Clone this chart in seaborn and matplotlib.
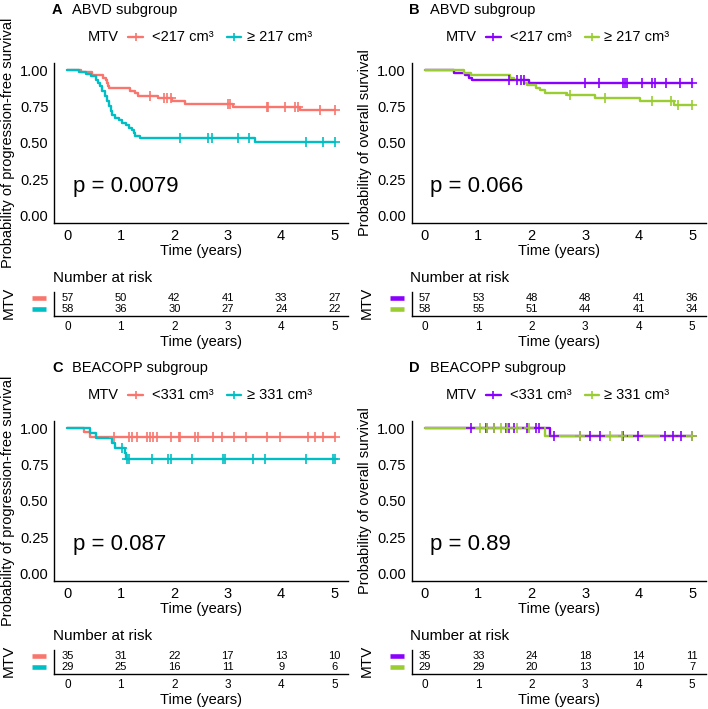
import numpy as np
import pandas as pd
import matplotlib
matplotlib.use("Agg")
import matplotlib.pyplot as plt
import matplotlib.transforms as mtransforms
from matplotlib.lines import Line2D
import seaborn as sns

# ------------------------------------------------------------------ data
TIME_TICKS = [0, 1, 2, 3, 4, 5]
Y_TICKS = [0.0, 0.25, 0.5, 0.75, 1.0]
Y_TICK_LABELS = ["0.00", "0.25", "0.50", "0.75", "1.00"]

# Panel A : ABVD subgroup, PFS
a_lo_time = [0, 0.25, 0.47, 0.67, 0.72, 0.74, 0.76, 0.78, 1.18, 1.27, 1.33, 1.70, 1.96, 2.20, 3.10, 4.35, 5.0]
a_lo_surv = [1, 0.99, 0.965, 0.947, 0.93, 0.912, 0.895, 0.877, 0.86, 0.842, 0.824, 0.808, 0.79, 0.771, 0.75, 0.727, 0.727]
a_lo_cens = [1.55, 1.80, 1.86, 1.93, 3.01, 3.04, 3.73, 3.76, 4.07, 4.25, 4.32, 4.72, 5.0]
a_hi_time = [0, 0.21, 0.34, 0.45, 0.53, 0.57, 0.61, 0.65, 0.70, 0.75, 0.78, 0.81, 0.84, 0.90, 0.96, 1.02,
             1.09, 1.15, 1.21, 1.24, 1.27, 1.35, 3.51, 5.0]
a_hi_surv = [1, 0.99, 0.975, 0.96, 0.93, 0.91, 0.89, 0.86, 0.82, 0.79, 0.755, 0.72, 0.69, 0.675, 0.66, 0.64,
             0.625, 0.605, 0.59, 0.57, 0.55, 0.534, 0.509, 0.509]
a_hi_cens = [2.11, 2.64, 2.70, 3.20, 3.39, 4.47, 4.78, 5.0]
a_risk_lo = [57, 50, 42, 41, 33, 27]
a_risk_hi = [58, 36, 30, 27, 24, 22]

# Panel B : ABVD subgroup, OS
b_lo_time = [0, 0.55, 0.76, 0.83, 0.89, 1.94, 5.0]
b_lo_surv = [1, 0.983, 0.966, 0.948, 0.93, 0.911, 0.911]
b_lo_cens = [1.57, 1.73, 1.79, 1.85, 3.0, 3.25, 3.71, 3.75, 3.78, 4.06, 4.24, 4.30, 4.52, 4.77, 5.0]
b_hi_time = [0, 0.73, 0.86, 1.60, 1.66, 1.85, 1.91, 2.07, 2.16, 2.25, 2.66, 3.19, 4.02, 4.67, 5.0]
b_hi_surv = [1, 0.983, 0.966, 0.95, 0.932, 0.915, 0.897, 0.88, 0.862, 0.845, 0.827, 0.81, 0.786, 0.762, 0.762]
b_hi_cens = [2.72, 3.37, 4.24, 4.61, 4.74, 5.0]
b_risk_lo = [57, 53, 48, 48, 41, 36]
b_risk_hi = [58, 55, 51, 44, 41, 34]

# Panel C : BEACOPP subgroup, PFS
c_lo_time = [0, 0.31, 0.43, 5.0]
c_lo_surv = [1, 0.971, 0.943, 0.943]
c_lo_cens = [0.87, 1.15, 1.21, 1.30, 1.49, 1.55, 1.61, 1.68, 1.93, 2.08, 2.11, 2.39, 2.45, 2.73, 2.89,
             3.11, 3.35, 3.73, 3.98, 4.50, 4.63, 4.78, 5.0]
c_hi_time = [0, 0.43, 0.53, 0.84, 0.90, 1.07, 1.09, 5.0]
c_hi_surv = [1, 0.966, 0.931, 0.897, 0.862, 0.828, 0.79, 0.79]
c_hi_cens = [1.02, 1.12, 1.15, 1.58, 1.89, 1.93, 2.33, 2.92, 2.94, 3.48, 3.70, 4.47, 4.97, 5.0]
c_risk_lo = [35, 31, 22, 17, 13, 10]
c_risk_hi = [29, 25, 16, 11, 9, 6]

# Panel D : BEACOPP subgroup, OS
d_lo_time = [0, 2.35, 5.0]
d_lo_surv = [1, 0.95, 0.95]
d_lo_cens = [0.86, 1.14, 1.17, 1.29, 1.51, 1.57, 1.66, 1.91, 2.07, 2.13, 2.41, 2.91, 3.09, 3.28, 3.71,
             3.99, 4.49, 4.65, 4.80, 4.99]
d_hi_time = [0, 2.25, 5.0]
d_hi_surv = [1, 0.944, 0.944]
d_hi_cens = [1.04, 1.17, 1.29, 1.42, 1.54, 1.73, 1.94, 2.91, 3.47, 3.68, 4.99]
d_risk_lo = [35, 33, 24, 18, 14, 11]
d_risk_hi = [29, 29, 20, 13, 10, 7]

LABELS_ABVD = ["<217 cm\u00b3", "\u2265 217 cm\u00b3"]
LABELS_BEACOPP = ["<331 cm\u00b3", "\u2265 331 cm\u00b3"]
TITLES = ["ABVD subgroup", "ABVD subgroup", "BEACOPP subgroup", "BEACOPP subgroup"]
LETTERS = ["A", "B", "C", "D"]
PVALUES = ["p = 0.0079", "p = 0.066", "p = 0.087", "p = 0.89"]
YLABELS = ["Probability of progression-free survival", "Probability of overall survival",
           "Probability of progression-free survival", "Probability of overall survival"]

PFS_COLORS = ["#F8766D", "#00BFC4"]
OS_COLORS = ["#8A00FF", "#9ACD32"]

# ------------------------------------------------------------------ style
sns.set_style("white")
plt.rcParams["font.family"] = ["Liberation Sans", "DejaVu Sans"]
plt.rcParams["axes.linewidth"] = 1.0
plt.rcParams["text.color"] = "black"

W, H = 708, 709
fig = plt.figure(figsize=(W / 100, H / 100), dpi=100)


def add_ax(left, top, right, bottom):
    return fig.add_axes([left / W, 1 - bottom / H, (right - left) / W, (bottom - top) / H])


def ftext(x, y, s, **kw):
    fig.text(x / W, 1 - y / H, s, color="black", **kw)


def draw_panel(ox, oy, letter, title, ylabel, groups, colors, labels, pval, risks):
    ax = add_ax(54 + ox, 63 + oy, 348 + ox, 223 + oy)
    for (t, s, c), col in zip(groups, colors):
        df = pd.DataFrame({"time": t, "surv": s})
        sns.lineplot(data=df, x="time", y="surv", ax=ax, color=col, lw=1.7,
                     drawstyle="steps-post", estimator=None, sort=False, legend=False)
        tt = np.asarray(t)
        ss = np.asarray(s)
        idx = np.searchsorted(tt, c, side="right") - 1
        cdf = pd.DataFrame({"time": c, "surv": ss[idx]})
        sns.scatterplot(data=cdf, x="time", y="surv", ax=ax, color=col, marker="+",
                        s=45, linewidth=1.2, legend=False, zorder=3)
    ax.set_xlim(-0.25, 5.25)
    ax.set_ylim(-0.05, 1.05)
    ax.set_xticks(TIME_TICKS)
    ax.set_xticklabels([str(v) for v in TIME_TICKS])
    ax.set_yticks(Y_TICKS)
    ax.set_yticklabels(Y_TICK_LABELS)
    ax.set_xlabel("")
    ax.set_ylabel("")
    sns.despine(ax=ax)
    for sp in ("left", "bottom"):
        ax.spines[sp].set_color("black")
        ax.spines[sp].set_linewidth(1.0)
    ax.tick_params(axis="both", direction="out", length=3, width=1.0, color="black",
                   labelsize=10.5, labelcolor="black")
    ax.tick_params(axis="x", pad=1.5)
    ax.tick_params(axis="y", pad=1.0)
    ax.text(0.1, 0.2, pval, fontsize=16, ha="left", va="center", color="black")

    # titles / labels
    ftext(52 + ox, 10 + oy, letter, fontsize=10.5, fontweight="bold", ha="left", va="center")
    ftext(72 + ox, 10 + oy, title, fontsize=10.5, ha="left", va="center")
    ftext(8 + ox, 143 + oy, ylabel, fontsize=10.5, rotation=90, ha="center", va="center")
    ftext(201 + ox, 251 + oy, "Time (years)", fontsize=10.5, ha="center", va="center")

    # legend
    ly = 1 - (37 + oy) / H
    ftext(88 + ox, 37 + oy, "MTV", fontsize=10.5, ha="left", va="center")
    for (k0, k1, tx), col, lab in zip([(128, 143, 152), (227, 241, 247)], colors, labels):
        fig.add_artist(Line2D([(k0 + ox) / W, (k1 + ox) / W], [ly, ly], transform=fig.transFigure,
                              color=col, lw=1.7))
        fig.add_artist(Line2D([(k0 + k1) / 2 / W + ox / W], [ly], transform=fig.transFigure,
                              color=col, marker="+", markersize=6, mew=1.2, lw=0))
        ftext(tx + ox, 37 + oy, lab, fontsize=10.5, ha="left", va="center")

    # risk table
    rt = add_ax(54 + ox, 292 + oy, 348 + ox, 316 + oy)
    rt.set_xlim(-0.25, 5.25)
    rt.set_ylim(0.3, 2.6)
    for row_y, vals, col in zip([2, 1], risks, colors):
        for tk, v in zip(TIME_TICKS, vals):
            rt.text(tk, row_y, str(v), ha="center", va="center", fontsize=8, color="black")
        tr = mtransforms.blended_transform_factory(fig.transFigure, rt.transData)
        fig.add_artist(Line2D([(32 + ox) / W, (46 + ox) / W], [row_y, row_y], transform=tr,
                              color=col, lw=3.3, solid_capstyle="butt"))
    rt.set_xticks(TIME_TICKS)
    rt.set_xticklabels([str(v) for v in TIME_TICKS])
    rt.set_yticks([])
    sns.despine(ax=rt)
    for sp in ("left", "bottom"):
        rt.spines[sp].set_color("black")
        rt.spines[sp].set_linewidth(1.0)
    rt.tick_params(axis="x", direction="out", length=2.5, width=1.0, color="black",
                   labelsize=8.5, pad=1.2, labelcolor="black")
    ftext(53 + ox, 278 + oy, "Number at risk", fontsize=11, ha="left", va="center")
    ftext(9 + ox, 303 + oy, "MTV", fontsize=11, rotation=90, ha="center", va="center")
    ftext(201 + ox, 342 + oy, "Time (years)", fontsize=10.5, ha="center", va="center")


panels = [
    (0, 0, [(a_lo_time, a_lo_surv, a_lo_cens), (a_hi_time, a_hi_surv, a_hi_cens)], PFS_COLORS,
     LABELS_ABVD, [a_risk_lo, a_risk_hi]),
    (357.5, 0, [(b_lo_time, b_lo_surv, b_lo_cens), (b_hi_time, b_hi_surv, b_hi_cens)], OS_COLORS,
     LABELS_ABVD, [b_risk_lo, b_risk_hi]),
    (0, 358, [(c_lo_time, c_lo_surv, c_lo_cens), (c_hi_time, c_hi_surv, c_hi_cens)], PFS_COLORS,
     LABELS_BEACOPP, [c_risk_lo, c_risk_hi]),
    (357.5, 358, [(d_lo_time, d_lo_surv, d_lo_cens), (d_hi_time, d_hi_surv, d_hi_cens)], OS_COLORS,
     LABELS_BEACOPP, [d_risk_lo, d_risk_hi]),
]

for i, (ox, oy, groups, colors, labels, risks) in enumerate(panels):
    draw_panel(ox, oy, LETTERS[i], TITLES[i], YLABELS[i], groups, colors, labels, PVALUES[i], risks)

fig.savefig("out.png", dpi=100, facecolor="white")
